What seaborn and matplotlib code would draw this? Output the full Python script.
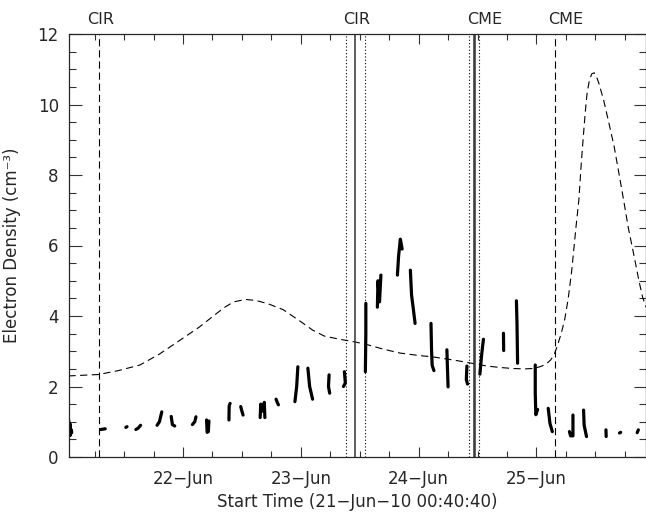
import numpy as np
import pandas as pd
import matplotlib
import matplotlib.pyplot as plt
import seaborn as sns
from matplotlib.ticker import FixedLocator, MultipleLocator

matplotlib.use("Agg")

# ------------------------------------------------------------
# Data (time in days since 21-Jun-10 00:00, density in cm^-3)
# ------------------------------------------------------------
t_start = 40 / 1440 + 40 / 86400  # 00:40:40
t_end = 4.93

# observed electron density, one list per contiguous data chunk
obs_segments = [
    [(0.030, 1.05), (0.034, 0.60), (0.040, 0.95), (0.045, 0.62), (0.050, 0.78), (0.056, 0.70)],
    [(0.300, 0.78), (0.340, 0.80)],
    [(0.515, 0.84), (0.525, 0.86)],
    [(0.600, 0.78), (0.620, 0.82), (0.640, 0.90)],
    [(0.780, 0.90), (0.800, 1.00), (0.820, 1.28)],
    [(0.900, 1.15), (0.910, 0.92), (0.930, 0.88)],
    [(1.080, 0.92), (1.100, 1.00), (1.110, 1.14)],
    [(1.200, 1.05), (1.205, 0.70), (1.215, 0.72), (1.220, 1.02)],
    [(1.390, 1.05), (1.392, 1.45), (1.400, 1.52)],
    [(1.490, 1.43), (1.500, 1.30), (1.510, 1.19)],
    [(1.655, 1.12), (1.660, 1.50), (1.670, 1.30), (1.685, 1.35), (1.690, 1.55), (1.695, 1.12)],
    [(1.790, 1.64), (1.800, 1.55), (1.810, 1.48)],
    [(1.950, 1.57), (1.965, 2.00), (1.975, 2.56)],
    [(2.060, 2.52), (2.075, 2.00), (2.100, 1.64)],
    [(2.240, 2.33), (2.235, 2.00), (2.245, 1.81)],
    [(2.370, 2.42), (2.378, 2.10), (2.362, 2.00)],
    [(2.552, 4.36), (2.552, 3.50), (2.548, 2.42)],
    [(2.650, 4.25), (2.655, 5.00), (2.668, 4.40), (2.680, 5.16)],
    [(2.820, 5.16), (2.830, 5.70), (2.845, 6.18), (2.860, 5.90)],
    [(2.930, 5.30), (2.940, 4.60), (2.955, 4.20), (2.970, 3.79)],
    [(3.105, 3.79), (3.110, 3.00), (3.115, 2.60), (3.130, 2.45)],
    [(3.240, 3.04), (3.245, 2.50), (3.250, 1.99)],
    [(3.410, 2.58), (3.405, 2.20), (3.415, 2.07)],
    [(3.520, 2.35), (3.535, 2.90), (3.550, 3.34)],
    [(3.720, 3.51), (3.722, 3.02)],
    [(3.830, 4.43), (3.835, 3.80), (3.840, 2.66)],
    [(3.990, 2.61), (3.990, 1.80), (3.995, 1.20), (4.010, 1.35)],
    [(4.100, 1.38), (4.115, 0.95), (4.135, 0.72)],
    [(4.310, 1.19), (4.310, 0.60), (4.290, 0.60), (4.280, 0.72)],
    [(4.400, 1.33), (4.405, 0.90), (4.425, 0.58)],
    [(4.590, 0.77), (4.592, 0.58)],
    [(4.705, 0.68), (4.715, 0.70)],
    [(4.855, 0.69), (4.865, 0.77)],
]

# modelled density (dashed curve)
model_t = [0.028, 0.284, 0.45, 0.635, 0.80, 1.00, 1.14, 1.25, 1.35, 1.43, 1.53, 1.62,
           1.72, 1.85, 2.00, 2.10, 2.20, 2.33, 2.45, 2.55, 2.70, 2.84, 3.00, 3.12,
           3.24, 3.35, 3.45, 3.58, 3.69, 3.80, 3.90, 3.97, 4.03, 4.08, 4.12, 4.15,
           4.175, 4.21, 4.24, 4.27, 4.30, 4.335, 4.36, 4.38, 4.40, 4.415, 4.43, 4.45,
           4.47, 4.49, 4.51, 4.53, 4.57, 4.61, 4.66, 4.70, 4.74, 4.78, 4.83, 4.87,
           4.90, 4.93]
model_ne = [2.30, 2.34, 2.45, 2.61, 2.92, 3.37, 3.69, 3.98, 4.24, 4.40, 4.47, 4.44,
            4.35, 4.18, 3.84, 3.60, 3.43, 3.34, 3.27, 3.20, 3.06, 2.95, 2.88, 2.84,
            2.78, 2.72, 2.66, 2.58, 2.54, 2.51, 2.50, 2.51, 2.56, 2.63, 2.75, 2.90,
            3.13, 3.50, 3.90, 4.50, 5.30, 6.50, 7.29, 8.30, 9.18, 9.80, 10.32, 10.70,
            10.87, 10.90, 10.79, 10.60, 10.13, 9.55, 8.80, 8.05, 7.29, 6.50, 5.68, 5.00,
            4.55, 4.25]

# event markers
dashed_events = [0.284, 4.161]
dotted_events = [2.382, 2.546, 3.430, 3.512]
solid_events = [2.461, 3.466, 3.480]
event_labels = ["CIR", "CIR", "CME", "CME"]
event_label_t = [0.300, 2.478, 3.565, 4.245]

day_ticks = [1, 2, 3, 4]
day_labels = ["22\u2212Jun", "23\u2212Jun", "24\u2212Jun", "25\u2212Jun"]

# ------------------------------------------------------------
sns.set_style("ticks")
plt.rcParams["font.family"] = ["DejaVu Sans"]

rows = []
for i, seg in enumerate(obs_segments):
    for t, ne in seg:
        rows.append({"t": t, "ne": ne, "seg": i})
df_obs = pd.DataFrame(rows)
df_model = pd.DataFrame({"t": model_t, "ne": model_ne})

fig = plt.figure(figsize=(6.46, 5.16), dpi=100)
ax = fig.add_axes([68.5 / 646, 59 / 516, (646 - 68.5) / 646, (457 - 34) / 516])

sns.lineplot(data=df_obs, x="t", y="ne", units="seg", estimator=None, sort=False,
             color="black", linewidth=2.3, ax=ax)
sns.lineplot(data=df_model, x="t", y="ne", sort=False, color="black",
             linewidth=0.8, ax=ax)
ax.lines[-1].set_dashes((6.5, 4.0))

for t in dashed_events:
    ax.axvline(t, color="black", linewidth=0.8, dashes=(6.5, 3.5))
for t in dotted_events:
    ax.axvline(t, color="black", linewidth=0.8, dashes=(1, 2))
for t in solid_events:
    ax.axvline(t, color="#333333", linewidth=1.1)

for lab, t in zip(event_labels, event_label_t):
    ax.text(t, 1.035, lab, transform=ax.get_xaxis_transform(), ha="center",
            va="center", fontsize=11.5)

ax.set_xlim(t_start, t_end)
ax.set_ylim(0, 12)
ax.xaxis.set_major_locator(FixedLocator(day_ticks))
ax.set_xticklabels(day_labels)
ax.xaxis.set_minor_locator(MultipleLocator(0.25))
ax.yaxis.set_major_locator(MultipleLocator(2))
ax.yaxis.set_minor_locator(MultipleLocator(0.5))

ax.tick_params(axis="both", which="both", direction="in", top=True, right=True,
               labelsize=12, width=0.8, color="#333333")
ax.tick_params(axis="y", which="major", length=9, pad=7)
ax.tick_params(axis="y", which="minor", length=5)
ax.tick_params(axis="x", which="major", length=7, pad=9)
ax.tick_params(axis="x", which="minor", length=4)
for sp in ax.spines.values():
    sp.set_linewidth(0.9)
    sp.set_visible(True)

ax.set_xlabel("Start Time (21\u2212Jun\u221210 00:40:40)", fontsize=12, labelpad=4)
ax.set_ylabel("Electron Density (cm\u207b\u00b3)", fontsize=12, labelpad=12)

fig.savefig("out.png", dpi=100)
